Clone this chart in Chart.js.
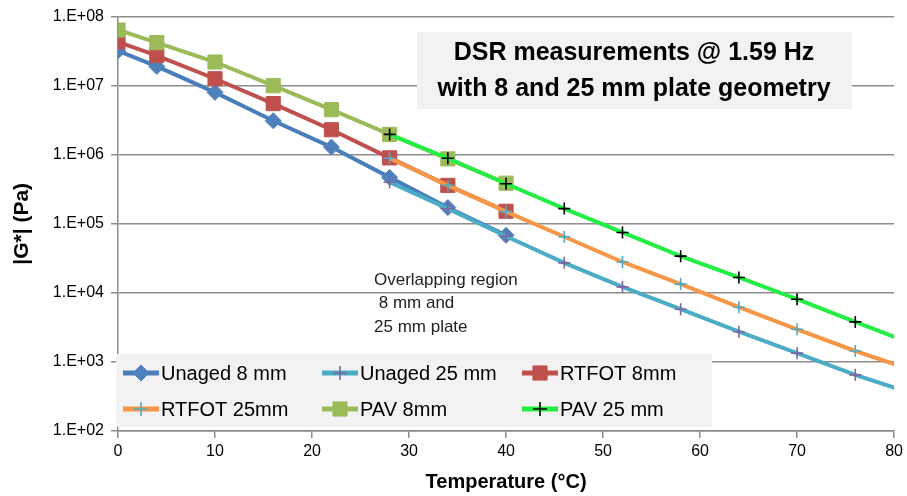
<!DOCTYPE html>
<html>
<head>
<meta charset="utf-8">
<script src="https://cdn.jsdelivr.net/npm/chart.js@4.4.1/dist/chart.umd.min.js"></script>
<style>
  html, body { margin: 0; padding: 0; background: #fff; }
  #wrap { width: 907px; height: 496px; }
</style>
</head>
<body>
<div id="wrap"><canvas id="canvas" width="907" height="496"></canvas></div>
<script>
// temperatures (°C)
const temps8 = [0, 4, 10, 16, 22, 28, 34, 40];
const temps25 = [28, 34, 40, 46, 52, 58, 64, 70, 76, 82];

// |G*| (Pa)
const unaged8 = [3.2e7, 1.9e7, 8.0e6, 3.1e6, 1.29e6, 4.7e5, 1.72e5, 6.8e4];
const unaged25 = [4.0e5, 1.66e5, 6.6e4, 2.72e4, 1.22e4, 5.8e3, 2.74e3, 1.34e3, 650, 345];
const rtfot8 = [4.3e7, 2.73e7, 1.26e7, 5.5e6, 2.3e6, 9.0e5, 3.6e5, 1.52e5];
const rtfot25 = [8.9e5, 3.6e5, 1.5e5, 6.5e4, 2.8e4, 1.34e4, 6.2e3, 2.97e3, 1.44e3, 750];
const pav8 = [6.4e7, 4.2e7, 2.2e7, 1.0e7, 4.5e6, 1.97e6, 8.7e5, 3.87e5];
const pav25 = [1.97e6, 8.9e5, 3.8e5, 1.66e5, 7.5e4, 3.4e4, 1.67e4, 8.1e3, 3.8e3, 1.8e3];

const seriesNames = ["Unaged 8 mm", "Unaged 25 mm", "RTFOT 8mm", "RTFOT 25mm", "PAV 8mm", "PAV 25 mm"];

const yTickValues = [1e2, 1e3, 1e4, 1e5, 1e6, 1e7, 1e8];
const yTickLabels = ["1.E+02", "1.E+03", "1.E+04", "1.E+05", "1.E+06", "1.E+07", "1.E+08"];

const titleLines = ["DSR measurements @ 1.59 Hz", "with 8 and 25 mm plate geometry"];
const noteLines = ["Overlapping region", " 8 mm and", "25 mm plate"];

const FONT = "'Liberation Sans', Arial, sans-serif";
const GRID = "#8c8c8c";

const pts = (xs, ys) => xs.map((x, i) => ({ x: x, y: ys[i] }));

const series = (i, xs, ys, line, marker, style) => {
  const cross = style === "cross";
  return {
    label: seriesNames[i],
    data: pts(xs, ys),
    borderColor: line,
    borderWidth: 4,
    pointStyle: style,
    pointRadius: cross ? 6 : (style === "rectRot" ? 8 : 10),
    pointBackgroundColor: marker,
    pointBorderColor: marker,
    pointBorderWidth: cross ? 1.6 : 1,
    tension: 0,
    order: 6 - i,
    clip: cross ? 0 : undefined,
  };
};

const boxes = {
  id: "boxes",
  afterDraw(chart) {
    const ctx = chart.ctx;
    ctx.save();

    // title box
    ctx.fillStyle = "#f2f2f2";
    ctx.fillRect(417, 32, 435, 77);
    ctx.fillStyle = "#000";
    ctx.font = "bold 25px " + FONT;
    ctx.textAlign = "center";
    ctx.textBaseline = "middle";
    ctx.fillText(titleLines[0], 634, 53);
    ctx.fillText(titleLines[1], 634, 89);

    // note
    ctx.font = "17px " + FONT;
    ctx.textAlign = "left";
    ctx.fillStyle = "#222";
    noteLines.forEach((t, i) => ctx.fillText(t, 374, 280 + i * 23.5));

    // legend
    ctx.fillStyle = "#f2f2f2";
    ctx.fillRect(116, 354, 596, 73);
    const cols = [123, 322, 522];
    const rows = [373, 409];
    chart.data.datasets.forEach((ds, i) => {
      const x0 = cols[i % 3];
      const y0 = rows[Math.floor(i / 3)];
      ctx.strokeStyle = ds.borderColor;
      ctx.lineWidth = 5;
      ctx.beginPath();
      ctx.moveTo(x0, y0);
      ctx.lineTo(x0 + 36, y0);
      ctx.stroke();
      ctx.fillStyle = ds.pointBackgroundColor;
      ctx.strokeStyle = ds.pointBorderColor;
      ctx.lineWidth = ds.pointBorderWidth;
      const r = ds.pointStyle === "cross" ? 7 : (ds.pointStyle === "rectRot" ? 8 : 10);
      Chart.helpers.drawPoint(ctx, { pointStyle: ds.pointStyle, radius: r, rotation: 0, borderWidth: ds.pointBorderWidth }, x0 + 18, y0);
      ctx.fillStyle = "#000";
      ctx.font = "20px " + FONT;
      ctx.textAlign = "left";
      ctx.fillText(ds.label, x0 + 38, y0 + 1);
    });
    ctx.restore();
  }
};

new Chart(document.getElementById("canvas").getContext("2d"), {
  type: "line",
  data: {
    datasets: [
      series(0, temps8, unaged8, "#4a7ebb", "#4f81bd", "rectRot"),
      series(1, temps25, unaged25, "#4bacc6", "#8064a2", "cross"),
      series(2, temps8, rtfot8, "#c0504d", "#c0504d", "rect"),
      series(3, temps25, rtfot25, "#f79646", "#4bacc6", "cross"),
      series(4, temps8, pav8, "#9bbb59", "#9bbb59", "rect"),
      series(5, temps25, pav25, "#22ee44", "#000000", "cross"),
    ]
  },
  options: {
    responsive: false,
    animation: false,
    layout: { padding: { top: 16, right: 12, left: 0, bottom: 0 } },
    plugins: {
      legend: { display: false },
      tooltip: { enabled: false },
    },
    scales: {
      x: {
        type: "linear",
        min: 0,
        max: 80,
        ticks: { stepSize: 10, color: "#000", padding: 4, font: { family: FONT, size: 16 } },
        grid: { drawOnChartArea: false, color: GRID, lineWidth: 1.5, tickLength: 7 },
        border: { color: GRID, width: 1.5 },
        title: {
          display: true,
          text: "Temperature (°C)",
          color: "#000",
          font: { family: FONT, size: 20, weight: "bold" },
          padding: { top: 0, bottom: 2 },
        },
        afterFit: s => { s.height = 65; },
      },
      y: {
        type: "logarithmic",
        min: 100,
        max: 1e8,
        afterBuildTicks: s => { s.ticks = yTickValues.map(v => ({ value: v })); },
        ticks: {
          color: "#000",
          padding: 7,
          font: { family: FONT, size: 16 },
          callback: v => yTickLabels[yTickValues.indexOf(v)],
        },
        grid: { color: GRID, lineWidth: 1.5, tickLength: 7 },
        border: { color: GRID, width: 1.5 },
        title: {
          display: true,
          text: "|G*| (Pa)",
          color: "#000",
          font: { family: FONT, size: 21, weight: "bold" },
          padding: { top: 10, bottom: 0 },
        },
        afterFit: s => { s.width = 118; },
      },
    },
  },
  plugins: [boxes],
});
</script>
</body>
</html>
